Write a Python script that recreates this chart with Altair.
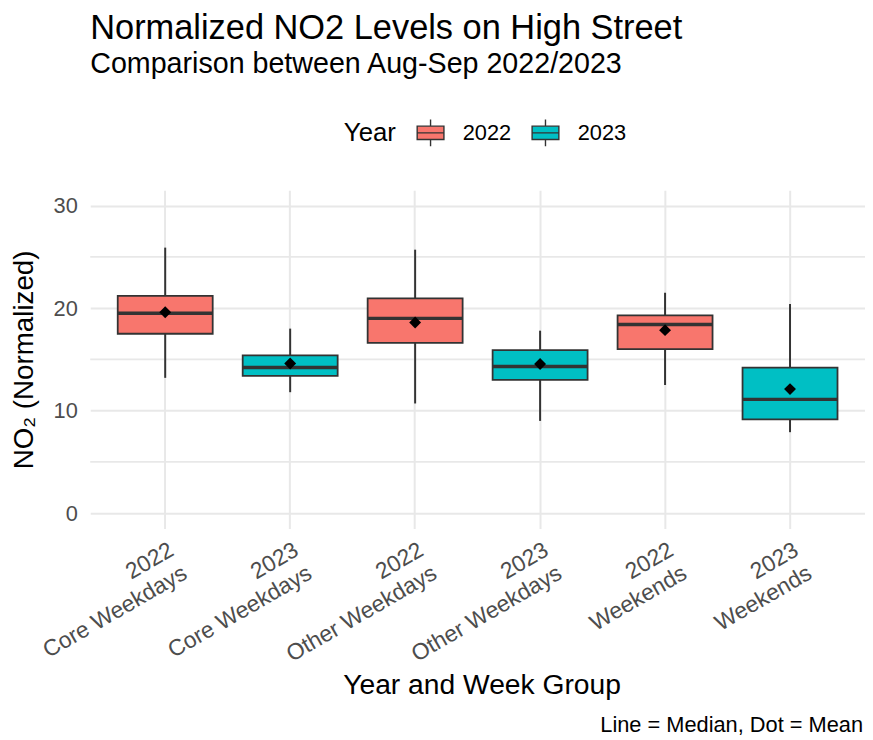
import altair as alt
import pandas as pd

# ---- data ----
groups = ["2022\nCore Weekdays", "2023\nCore Weekdays", "2022\nOther Weekdays",
          "2023\nOther Weekdays", "2022\nWeekends", "2023\nWeekends"]
years = ["2022", "2023", "2022", "2023", "2022", "2023"]
whisker_low = [13.2, 11.8, 10.7, 9.0, 12.5, 7.9]
q1 = [17.5, 13.4, 16.6, 13.0, 16.0, 9.15]
median = [19.5, 14.2, 19.0, 14.3, 18.4, 11.1]
q3 = [21.2, 15.4, 20.95, 15.9, 19.3, 14.2]
whisker_high = [25.9, 18.0, 25.7, 17.8, 21.5, 20.4]
mean = [19.6, 14.6, 18.6, 14.55, 17.85, 12.1]
major_ticks = [0, 10, 20, 30]
minor_grid = [5, 15, 25]
year_domain = ["2022", "2023"]
year_colors = ["#F8766D", "#00BFC4"]
caption_text = ["Line = Median, Dot = Mean"]

df = pd.DataFrame({
    "group": groups, "year": years, "lo": whisker_low, "q1": q1,
    "median": median, "q3": q3, "hi": whisker_high, "mean": mean,
})
minor_df = pd.DataFrame({"v": minor_grid})
cap_df = pd.DataFrame({"t": caption_text})

FONT = "Liberation Sans"
W, H = 782, 341.5
PI, PO = 0.24, 0.22
STEP = W / (len(groups) - PI + 2 * PO)
BW = STEP * (1 - PI)
GRID = "#E8E8E8"
DARK = "#333333"

yscale = alt.Scale(domain=[-1.5, 31.5], nice=False, zero=False)
X = alt.X("group:N", sort=groups,
          scale=alt.Scale(paddingInner=PI, paddingOuter=PO),
          axis=alt.Axis(title="Year and Week Group", grid=True, bandPosition=0.5,
                        gridColor=GRID, gridWidth=2,
                        labelAngle=330, labelAlign="right", labelBaseline="top",
                        labelExpr="split(datum.label, '\\n')", labelLineHeight=27,
                        labelOffset=1, labelPadding=10, labelFontSize=23,
                        labelColor="#4D4D4D", titleFontSize=28.5, titleColor="black",
                        titleFontWeight="normal", titleX=W / 2 + 4, titleY=166,
                        titleBaseline="alphabetic", titleAlign="center",
                        domain=False, ticks=False))
Yaxis = alt.Axis(title="NO₂ (Normalized)", values=major_ticks, grid=True,
                 gridColor=GRID, gridWidth=2, labelFontSize=22, labelColor="#4D4D4D",
                 labelPadding=13, titleFontSize=28, titleColor="black",
                 titleFontWeight="normal", titleX=-66, titleY=H / 2,
                 titleAngle=270, titleAlign="center", titleBaseline="middle",
                 domain=False, ticks=False)

base = alt.Chart(df)

minor = alt.Chart(minor_df).mark_rule(color=GRID, strokeWidth=1.6).encode(
    y=alt.Y("v:Q", scale=yscale, axis=Yaxis),
    x=alt.value(0), x2=alt.value(W))

whisk = base.mark_rule(color=DARK, strokeWidth=2).encode(
    x=X, y=alt.Y("lo:Q", scale=yscale, axis=Yaxis), y2="hi:Q")

legend_symbol = "M-1,-0.5H1V0.5H-1Z M-1,0H1 M0,-0.5V-1 M0,0.5V1"
box = base.mark_bar(stroke=DARK, strokeWidth=1.8, opacity=1).encode(
    x=X, y=alt.Y("q1:Q", scale=yscale, axis=Yaxis), y2="q3:Q",
    color=alt.Color("year:N", scale=alt.Scale(domain=year_domain, range=year_colors),
                    legend=alt.Legend(title="Year", orient="none", legendX=256,
                                      legendY=-72.5, direction="horizontal",
                                      titleOrient="left", symbolType=legend_symbol,
                                      symbolSize=729, symbolStrokeColor=DARK,
                                      symbolStrokeWidth=1.4, symbolOpacity=1,
                                      labelFontSize=22, labelColor="black",
                                      titleFontSize=26, titleColor="black",
                                      titleFontWeight="normal", labelOffset=18,
                                      columnPadding=18, titlePadding=20,
                                      titleBaseline="middle", titleAnchor="middle")))

med = base.mark_tick(color=DARK, thickness=3.5, size=BW, opacity=1).encode(
    x=X, y=alt.Y("median:Q", scale=yscale, axis=Yaxis))

mean_pt = base.mark_point(shape="diamond", filled=True, color="black", size=144,
                          opacity=1).encode(x=X, y=alt.Y("mean:Q", scale=yscale, axis=Yaxis))

caption = alt.Chart(cap_df).mark_text(align="right", baseline="alphabetic", fontSize=22,
                                      color="black", font=FONT).encode(
    text="t:N", x=alt.value(W - 2), y=alt.value(H + 205))

chart = alt.layer(minor, whisk, box, med, mean_pt, caption).properties(
    width=W, height=H,
    title=alt.TitleParams(text="Normalized NO2 Levels on High Street",
                          subtitle="Comparison between Aug-Sep 2022/2023",
                          anchor="start", frame="group", fontSize=34.7, subtitleFontSize=28.9,
                          fontWeight="normal", color="black", subtitleColor="black",
                          font=FONT, subtitleFont=FONT, offset=39, subtitlePadding=4),
    autosize=alt.AutoSizeParams(type="none"),
    padding={"left": 83, "top": 180.5, "right": 0, "bottom": 210},
).configure(font=FONT).configure_view(stroke=None)

chart.save("out.html", embed_options={"renderer": "svg", "actions": False})
